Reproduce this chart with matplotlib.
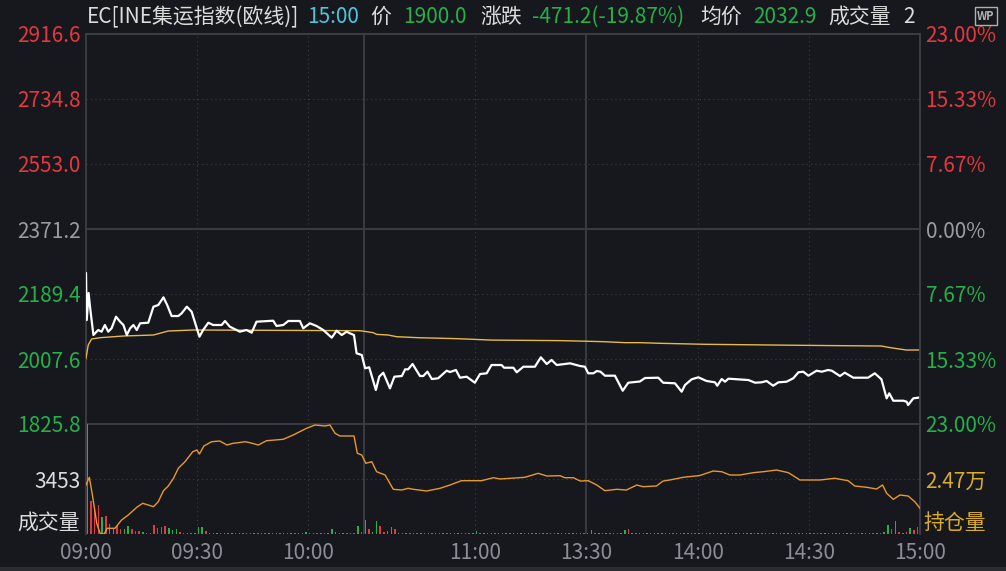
import numpy as np
import matplotlib
matplotlib.use('Agg')
import matplotlib.pyplot as plt
from matplotlib.patches import Rectangle

plt.rcParams['font.family'] = ['Noto Sans CJK SC', 'DejaVu Sans']

# ---- data (minutes since 09:00 in trading time, 225 = 15:00) ----
price_t = [0, 0.2, 0.7, 1.1, 2.0, 3.3, 4.2, 5.1, 6.0, 6.9, 8.1, 9.2, 10.1, 11.0, 11.9,
           12.8, 13.7, 14.6, 16.8, 18.2, 19.5, 20.9, 21.9, 23.1, 24.9, 25.8, 27.2, 28.5,
           29.9, 30.6, 31.6, 33.0, 34.3, 36.6, 37.5, 38.8, 41.5, 43.3, 44.7, 46.0, 50.5,
           51.4, 53.2, 54.6, 57.7, 58.6, 60.4, 62.2, 64.0, 66.3, 67.6, 69.0, 70.3, 71.2,
           72.3, 73.0, 74.4, 75.3, 76.4, 78.2, 79.1, 80.2, 82.0, 83.2, 85.2, 86.1, 86.9,
           88.1, 90.1, 91.0, 92.1, 93.3, 95.0, 97.3, 98.2, 99.8, 100.9, 102.7, 104.9,
           106.3, 108.1, 109.4, 112.1, 112.8, 115.3, 116.2, 118.0, 121.1, 122.7, 124.3,
           125.6, 127.0, 130.6, 133.3, 134.6, 135.5, 136.9, 137.8, 138.8, 140.0, 142.7,
           144.8, 146.3, 149.4, 150.8, 154.4, 155.7, 158.9, 160.7, 161.6, 163.4, 165.2,
           167.4, 169.7, 170.3, 171.5, 172.4, 173.3, 176.0, 178.7, 180.5, 182.3, 183.6,
           185.4, 186.8, 189.0, 190.8, 192.2, 193.5, 194.9, 197.1, 198.5, 200.2, 201.2,
           203.4, 204.7, 207.0, 211.0, 212.8, 214.6, 215.5, 216.0, 216.7, 217.8, 220.5,
           221.4, 221.8, 223.2, 225.0]
price_v = [2247.3, 2116.6, 2192.2, 2152.0, 2074.7, 2088.7, 2084.0, 2102.7, 2084.0, 2093.4,
           2125.9, 2111.9, 2102.7, 2074.7, 2093.4, 2102.7, 2088.7, 2107.4, 2109.1, 2153.9,
           2158.6, 2180.1, 2158.6, 2127.8, 2127.8, 2135.4, 2153.9, 2139.9, 2093.4, 2070.0,
           2088.7, 2109.1, 2102.7, 2102.7, 2113.9, 2098.0, 2084.0, 2088.7, 2081.2, 2111.9,
           2114.7, 2099.9, 2102.7, 2113.9, 2113.9, 2093.4, 2107.4, 2099.9, 2088.7, 2067.2,
           2086.7, 2074.7, 2084.0, 2079.4, 2074.7, 2023.5, 2018.8, 1981.6, 1984.4, 1920.9,
           1958.1, 1969.3, 1925.6, 1958.1, 1960.0, 1978.7, 1978.7, 1993.6, 1960.0, 1960.0,
           1972.1, 1951.6, 1953.6, 1974.9, 1971.2, 1976.8, 1955.3, 1958.1, 1941.3, 1965.6,
           1967.6, 1990.8, 1990.8, 1983.2, 1983.2, 1970.4, 1986.0, 1986.0, 2012.3, 1993.6,
           2004.8, 1990.8, 1995.5, 1988.0, 1986.0, 1967.6, 1967.6, 1974.0, 1972.1, 1960.9,
           1960.9, 1918.9, 1941.3, 1944.6, 1954.4, 1955.3, 1941.3, 1939.6, 1916.1, 1934.9,
           1950.8, 1956.4, 1946.1, 1942.4, 1932.9, 1951.6, 1944.1, 1952.5, 1950.8, 1948.8,
           1941.3, 1942.4, 1946.1, 1932.9, 1942.4, 1944.1, 1953.6, 1970.4, 1972.1, 1960.9,
           1974.9, 1972.1, 1976.8, 1974.9, 1960.0, 1969.3, 1955.3, 1955.3, 1967.6, 1950.8,
           1916.1, 1897.6, 1911.6, 1890.9, 1890.9, 1888.1, 1878.9, 1897.6, 1900.0]

avg_t = [0, 0.6, 1.5, 3.8, 10.1, 18.2, 22.2, 29.0, 73.9, 75.7, 77.5, 78.4, 81.5, 83.8,
         89.6, 100.3, 109.4, 128.3, 139.5, 145.4, 149.4, 154.9, 167.0, 192.6, 214.6,
         216.4, 218.7, 221.4, 225.0]
avg_v = [2009.5, 2046.7, 2063.5, 2067.2, 2071.9, 2074.7, 2085.9, 2088.7, 2086.7, 2084.0,
         2081.2, 2076.5, 2074.7, 2070.0, 2067.2, 2064.4, 2060.5, 2058.9, 2056.1, 2053.3,
         2053.3, 2051.5, 2048.7, 2045.9, 2043.9, 2040.3, 2036.6, 2032.7, 2032.9]

oi_t = [0, 0.9, 1.8, 2.9, 3.8, 4.9, 5.7, 7.8, 9.6, 11.4, 13.7, 15.3, 16.8, 18.2, 19.5,
        20.9, 22.2, 23.6, 24.9, 26.7, 28.8, 29.9, 30.6, 31.8, 33.9, 36.1, 38.0, 39.7,
        41.1, 42.9, 44.2, 46.5, 48.7, 53.2, 55.9, 59.5, 61.8, 64.5, 65.8, 67.2, 68.5,
        72.3, 73.2, 74.4, 75.5, 77.1, 78.4, 80.7, 82.9, 85.2, 86.9, 88.3, 91.9, 95.5,
        98.2, 101.3, 106.7, 109.9, 111.7, 118.4, 122.0, 124.3, 127.9, 129.2, 131.5,
        133.3, 135.5, 137.8, 140.0, 143.2, 145.8, 148.6, 150.3, 153.9, 155.7, 157.5,
        161.1, 165.6, 169.2, 171.5, 173.7, 176.4, 180.0, 182.7, 186.3, 189.5, 192.6,
        198.0, 202.0, 205.6, 207.4, 210.6, 213.3, 214.9, 216.0, 217.8, 219.6, 221.8,
        223.6, 225.0]
oi_v = [24536, 24746, 24217, 23492, 23219, 23200, 23356, 23356, 23582, 23718, 23928,
        24037, 23991, 23945, 24081, 24381, 24509, 24719, 24992, 25172, 25444, 25491,
        25382, 25600, 25717, 25736, 25627, 25674, 25690, 25717, 25690, 25627, 25744,
        25783, 25900, 26083, 26173, 26145, 26173, 25946, 25873, 25873, 25401, 25354,
        25128, 25172, 24899, 24809, 24419, 24400, 24446, 24419, 24373, 24446, 24536,
        24654, 24654, 24735, 24700, 24746, 24855, 24782, 24790, 24735, 24735, 24645,
        24654, 24536, 24381, 24419, 24400, 24536, 24490, 24509, 24645, 24673, 24746,
        24795, 24918, 24899, 24809, 24809, 24872, 24899, 24945, 24872, 24673, 24673,
        24719, 24654, 24509, 24474, 24427, 24536, 24310, 24146, 24264, 24236, 24081,
        23901]

# one bar per minute, 0..225
volume = [6906, 2065, 1746, 1790, 1068, 1108, 639, 365, 512, 300, 300, 512, 300, 213, 213,
          150, 90, 70, 575, 365, 430, 512, 365, 256, 300, 150, 90, 60, 70, 90,
          430, 430, 200, 70, 60, 90, 60, 70, 60, 90, 70, 60, 70, 90, 60,
          70, 60, 90, 60, 70, 60, 90, 70, 60, 70, 60, 90, 70, 60, 130,
          70, 60, 90, 70, 60, 90, 300, 130, 70, 60, 90, 70, 90, 512, 130,
          895, 300, 130, 831, 512, 150, 200, 430, 300, 60, 90, 60, 70, 60, 70,
          60, 70, 90, 60, 70, 60, 60, 70, 90, 60, 70, 60, 70, 60, 90,
          200, 60, 70, 60, 90, 60, 70, 60, 70, 90, 60, 70, 60, 70, 60,
          90, 60, 70, 60, 70, 90, 60, 70, 60, 70, 60, 90, 60, 70, 60,
          90, 250, 70, 60, 70, 90, 60, 70, 60, 90, 250, 340, 60, 70, 60,
          70, 60, 90, 60, 70, 60, 70, 90, 60, 70, 60, 70, 60, 90, 70,
          60, 70, 60, 90, 60, 70, 60, 70, 90, 60, 70, 60, 70, 60, 90,
          60, 70, 60, 70, 90, 60, 70, 60, 70, 60, 90, 70, 60, 70, 60,
          90, 60, 70, 60, 70, 60, 90, 60, 70, 60, 70, 90, 60, 70, 60,
          70, 60, 90, 70, 60, 130, 575, 300, 787, 130, 70, 150, 365, 250, 467,
          100]
vol_dir = ("grrrgrggrrggrrr" "grrrrrrgggrrgrg" "ggrgrgrgrgrgrgr" "grgrgrgrgrgrgrg"
           "rgrgrgggrgrgrgr" "grggrrggrgrgrgr" "grgrgrgrgrgrgrg" "grgrgrgrgrgrgrg"
           "rgrgrgrgrgrgrgr" "ggrgrgrgrggrgrg" "rgrgrgrgrgrgrgr" "grgrgrgrgrgrgrg"
           "rgrgrgrgrgrgrgr" "grgrgrgrgrgrgrg" "rgrgrggrgrgrgrr" "g")

prev_close = 2371.2
price_levels = [1825.8, 2007.6, 2189.4, 2371.2, 2553.0, 2734.8, 2916.6]
pct_labels = ['23.00%', '15.33%', '7.67%', '0.00%', '7.67%', '15.33%', '23.00%']
time_ticks = [0, 30, 60, 105, 135, 165, 195, 225]
time_labels = ['09:00', '09:30', '10:00', '11:00', '13:30', '14:00', '14:30', '15:00']
session_breaks = [75, 135]
vol_mid = 3453
oi_mid = 24700

# ---- colours ----
BG = '#16181d'
GRID = '#3b3e45'
RED = '#e5383e'
GREEN = '#25b04a'
GRAY = '#9a9ca2'
WHITE = '#dcdcdc'
GOLD = '#d9ad2b'
FS = 15

W, H = 1006, 571


def fx(x):
    return x / W


def fy(y):
    return 1 - y / H


fig = plt.figure(figsize=(W / 100, H / 100), dpi=100, facecolor=BG)
ax = fig.add_axes([fx(86), fy(424), fx(920) - fx(86), fy(34) - fy(424)], facecolor=BG)
axv = fig.add_axes([fx(86), fy(534), fx(920) - fx(86), fy(424) - fy(534)], facecolor=BG)

dot = (0, (1, 3))

# price panel
ax.set_xlim(0, 225)
ax.set_ylim(price_levels[0], price_levels[-1])
for lv in price_levels[1:-1]:
    if lv == prev_close:
        ax.axhline(lv, color=GRID, lw=1.3, zorder=1)
    else:
        ax.axhline(lv, color=GRID, lw=0.8, ls=dot, zorder=1)
for t in time_ticks[1:-1]:
    if t in session_breaks:
        ax.axvline(t, color=GRID, lw=1.3, zorder=1)
    else:
        ax.axvline(t, color=GRID, lw=0.8, ls=dot, zorder=1)
ax.axvline(75, color=GRID, lw=1.3, zorder=1)

ax.plot(avg_t, avg_v, color='#e8b949', lw=1.0, zorder=3)
ax.plot(price_t, price_v, color='white', lw=1.6, zorder=4)

lab_colors = [GREEN, GREEN, GREEN, GRAY, RED, RED, RED]
ax.set_yticks(price_levels)
ax.set_yticklabels([f'{v:.1f}' for v in price_levels])
for lbl, c in zip(ax.get_yticklabels(), lab_colors):
    lbl.set_color(c)
ax.set_xticks([])
ax.tick_params(axis='y', length=0, pad=4, labelsize=FS)

axr = ax.twinx()
axr.set_ylim(ax.get_ylim())
axr.set_yticks(price_levels)
axr.set_yticklabels(pct_labels)
for lbl, c in zip(axr.get_yticklabels(), lab_colors):
    lbl.set_color(c)
axr.tick_params(axis='y', length=0, pad=4, labelsize=FS)

for a in (ax, axr):
    for s in a.spines.values():
        s.set_color(GRID)
        s.set_linewidth(1.3)
    a.spines['bottom'].set_visible(False)
axr.spines['left'].set_visible(False)

# volume / open interest panel
axv.set_xlim(0, 225)
axv.set_ylim(0, 2 * vol_mid)
axv.axhline(vol_mid, color=GRID, lw=0.8, ls=dot, zorder=1)
for t in time_ticks[1:-1]:
    if t in session_breaks:
        axv.axvline(t, color=GRID, lw=1.3, zorder=1)
    else:
        axv.axvline(t, color=GRID, lw=0.8, ls=dot, zorder=1)
axv.axvline(75, color=GRID, lw=1.3, zorder=1)

bar_cols = [RED if d == 'r' else GREEN for d in vol_dir]
axv.bar(np.arange(len(volume)) + 0.15, volume, width=0.4, align='edge',
        color=bar_cols, zorder=3)
axv.set_yticks([vol_mid])
axv.set_yticklabels([str(vol_mid)], color=WHITE)
axv.tick_params(axis='y', length=0, pad=4, labelsize=FS)
axv.set_xticks(time_ticks)
axv.set_xticklabels(time_labels, color='#8a8e96')
axv.tick_params(axis='x', length=0, pad=6, labelsize=FS)

axo = axv.twinx()
axo.set_xlim(0, 225)
axo.set_ylim(oi_mid - 1500, oi_mid + 1500)
axo.plot(oi_t, oi_v, color='#e8992c', lw=1.0, zorder=3)
axo.set_yticks([oi_mid])
axo.set_yticklabels([f'{oi_mid / 10000:.2f}万'], color=GOLD)
axo.tick_params(axis='y', length=0, pad=4, labelsize=FS)

for a in (axv, axo):
    for s in a.spines.values():
        s.set_color(GRID)
        s.set_linewidth(1.3)
    a.spines['bottom'].set_visible(False)
axo.spines['left'].set_visible(False)
axo.spines['top'].set_visible(False)

axv.text(-0.007, 0.10, '成交量', transform=axv.transAxes, ha='right', va='center',
         color=WHITE, fontsize=FS)
axo.text(1.004, 0.10, '持仓量', transform=axo.transAxes, ha='left', va='center',
         color=GOLD, fontsize=FS)

# header line
hy = fy(17)
header = [
    (87, 'EC[INE集运指数(欧线)]', WHITE),
    (307, '15:00', '#4cc6dc'),
    (370, '价', WHITE),
    (403, '1900.0', GREEN),
    (480, '涨跌', WHITE),
    (532, '-471.2(-19.87%)', GREEN),
    (700, '均价', WHITE),
    (753, '2032.9', GREEN),
    (828, '成交量', WHITE),
    (903, '2', WHITE),
]
for x, s, c in header:
    fig.text(fx(x), hy, s, ha='left', va='center', color=c, fontsize=FS)

fig.text(fx(986), fy(16), 'WP', ha='center', va='center', color='#b0b0b0', fontsize=8,
         fontweight='bold',
         bbox=dict(boxstyle='square,pad=0.2', facecolor=BG, edgecolor='#b0b0b0', lw=1))

# window strip at the bottom
fig.patches.append(Rectangle((0, 0), 1, 4 / H, transform=fig.transFigure,
                             facecolor='#2a2c31', edgecolor='none'))

fig.savefig('out.png', dpi=100, facecolor=BG)
